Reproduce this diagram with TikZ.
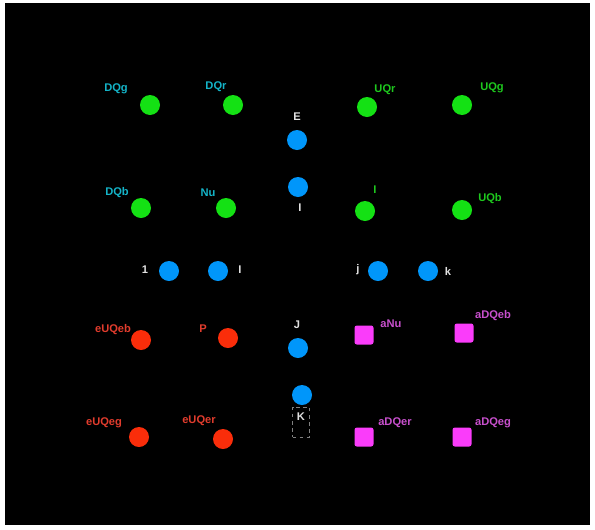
\documentclass[tikz,border=0pt]{standalone}
\usepackage{fontspec}
\setmainfont{Liberation Sans}
\usetikzlibrary{positioning}
\definecolor{qgreen}{RGB}{20,225,20}
\definecolor{qblue}{RGB}{0,150,250}
\definecolor{qred}{RGB}{250,45,10}
\definecolor{qmag}{RGB}{250,60,250}
\definecolor{tcyan}{RGB}{20,180,200}
\definecolor{tgreen}{RGB}{30,200,30}
\definecolor{tred}{RGB}{225,60,45}
\definecolor{tmag}{RGB}{200,80,205}
\definecolor{twhite}{RGB}{225,225,225}

\begin{document}
\begin{tikzpicture}[x=0.03cm, y=-0.03cm,
    font=\fontsize{9.5}{10}\selectfont\bfseries,
    dot/.style={circle, inner sep=0pt, minimum size=0.6cm},
    gdot/.style={dot, fill=qgreen},
    bdot/.style={dot, fill=qblue},
    rdot/.style={dot, fill=qred},
    mdot/.style={rectangle, rounded corners=2pt, inner sep=0pt, minimum size=0.57cm, fill=qmag},
    lbl/.style={inner sep=1pt}]
    \useasboundingbox (0,0) rectangle (595,529);
    \fill[white] (0,0) rectangle (595,529);
    \fill[black] (5,3) rectangle (590,525);

    % Down quarks (green, cyan labels)
    \node[gdot] (dqg) at (150,105) {};
    \node[lbl, text=tcyan] (dqgl) at (116,89) {DQg};
    \node[gdot] (dqr) at (233,105) {};
    \node[lbl, text=tcyan] (dqrl) at (216,87) {DQr};
    \node[gdot] (dqb) at (141,208) {};
    \node[lbl, text=tcyan] (dqbl) at (117,193) {DQb};
    \node[gdot] (nu) at (226,208) {};
    \node[lbl, text=tcyan] (nul) at (208,193) {Nu};

    % Up quarks (green)
    \node[gdot] (uqr) at (367,107) {};
    \node[lbl, text=tgreen] (uqrl) at (385,90) {UQr};
    \node[gdot] (uqg) at (462,105) {};
    \node[lbl, text=tgreen] (uqgl) at (492,88) {UQg};
    \node[gdot] (ig) at (365,211) {};
    \node[lbl, text=tgreen] (igl) at (375,190) {I};
    \node[gdot] (uqb) at (462,210) {};
    \node[lbl, text=tgreen] (uqbl) at (490,199) {UQb};

    % Centre column and middle row (blue)
    \node[bdot] (e) at (297,140) {};
    \node[lbl, text=twhite] (el) at (297,117) {E};
    \node[bdot] (i) at (298,187) {};
    \node[lbl, text=twhite] (il) at (300,208) {I};
    \node[bdot] (one) at (169,271) {};
    \node[lbl, text=twhite] (onel) at (145,270) {1};
    \node[bdot] (ii) at (218,271) {};
    \node[lbl, text=twhite] (iil) at (240,270) {I};
    \node[bdot] (j) at (378,271) {};
    \node[lbl, text=twhite] (jl) at (358,270) {j};
    \node[bdot] (k) at (428,271) {};
    \node[lbl, text=twhite] (kl) at (448,271) {k};
    \node[bdot] (jj) at (298,348) {};
    \node[lbl, text=twhite] (jjl) at (297,325) {J};
    \node[bdot] (kk) at (302,395) {};
    \node[draw=gray, dashed, minimum width=0.5cm, minimum height=0.9cm] (kbox) at (301,422) {};
    \node[lbl, text=twhite] (kkl) at (301,417) {K};

    % Anti up quarks (red)
    \node[rdot] (euqeb) at (141,340) {};
    \node[lbl, text=tred] (euqebl) at (113,330) {eUQeb};
    \node[rdot] (p) at (228,338) {};
    \node[lbl, text=tred] (pl) at (203,329) {P};
    \node[rdot] (euqeg) at (139,437) {};
    \node[lbl, text=tred] (euqegl) at (104,423) {eUQeg};
    \node[rdot] (euqer) at (223,439) {};
    \node[lbl, text=tred] (euqerl) at (199,421) {eUQer};

    % Anti down quarks (magenta)
    \node[mdot] (anu) at (364,335) {};
    \node[lbl, text=tmag] (anul) at (391,324) {aNu};
    \node[mdot] (adqeb) at (464,333) {};
    \node[lbl, text=tmag] (adqebl) at (493,316) {aDQeb};
    \node[mdot] (adqer) at (364,437) {};
    \node[lbl, text=tmag] (adqerl) at (395,423) {aDQer};
    \node[mdot] (adqeg) at (462,437) {};
    \node[lbl, text=tmag] (adqegl) at (493,423) {aDQeg};
\end{tikzpicture}
\end{document}
